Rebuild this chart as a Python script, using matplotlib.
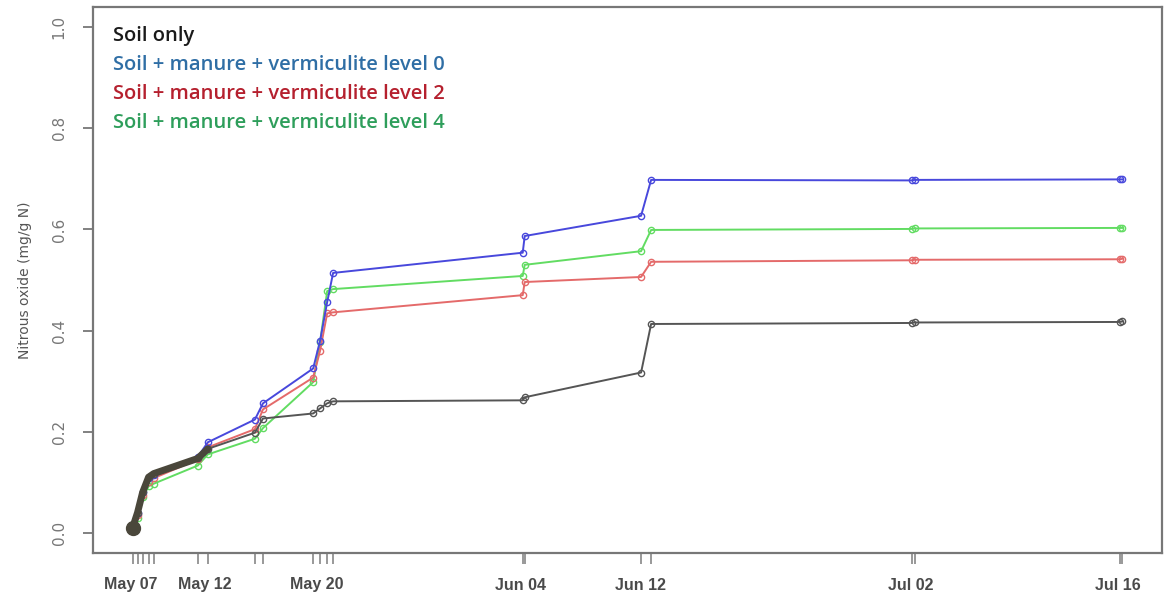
import matplotlib
matplotlib.use("Agg")
import matplotlib.pyplot as plt
import matplotlib.transforms as mtrans
import numpy as np

# ---- data ----
# sampling times, in days since May 07 00:00
days = [0.0, 0.35, 0.71, 1.13, 1.49, 4.61, 5.32, 8.65, 9.22,
        12.77, 13.26, 13.76, 14.18, 27.59, 27.73, 35.96, 36.67,
        55.1, 55.3, 69.8, 70.0]

soil_only = [0.010, 0.040, 0.080, 0.110, 0.117, 0.147, 0.166, 0.198, 0.226,
             0.236, 0.246, 0.256, 0.260, 0.262, 0.268, 0.317, 0.413,
             0.415, 0.416, 0.417, 0.418]
level0 = [0.008, 0.040, 0.080, 0.108, 0.115, 0.150, 0.179, 0.224, 0.256,
          0.325, 0.380, 0.456, 0.514, 0.554, 0.587, 0.627, 0.698,
          0.697, 0.698, 0.699, 0.699]
level2 = [0.007, 0.035, 0.075, 0.100, 0.108, 0.145, 0.169, 0.205, 0.244,
          0.307, 0.360, 0.434, 0.436, 0.470, 0.496, 0.506, 0.536,
          0.539, 0.540, 0.541, 0.542]
level4 = [0.005, 0.030, 0.070, 0.092, 0.097, 0.133, 0.155, 0.186, 0.207,
          0.298, 0.377, 0.478, 0.482, 0.508, 0.530, 0.557, 0.599,
          0.601, 0.602, 0.603, 0.603]

label_days = [-0.1, 5.1, 13.0, 27.4, 35.9, 55.0, 69.7]
label_text = ["May 07", "May 12", "May 20", "Jun 04", "Jun 12", "Jul 02", "Jul 16"]

legend_text = ["Soil only",
               "Soil + manure + vermiculite level 0",
               "Soil + manure + vermiculite level 2",
               "Soil + manure + vermiculite level 4"]
legend_colors = ["#1a1a1a", "#2f6ea5", "#b5202e", "#2e9e5b"]

ylabel = "Nitrous oxide (mg/g N)"

# ---- figure ----
W, H = 1169, 597
fig = plt.figure(figsize=(W / 100, H / 100), dpi=100)
L, R, T, B = 93, 1162, 7, 553
ax = fig.add_axes([L / W, 1 - B / H, (R - L) / W, (B - T) / H])

x = np.array(days)
rng = x.max() - x.min()
ax.set_xlim(x.min() - 0.04 * rng, x.max() + 0.04 * rng)
ax.set_ylim(-0.04, 1.04)

mk = dict(marker="o", markersize=4.5, markerfacecolor="none", markeredgewidth=1.0)
ax.plot(x, level4, color="#62dc62", lw=1.4, **mk, zorder=3)
ax.plot(x, level2, color="#e46a6a", lw=1.4, **mk, zorder=3)
ax.plot(x, level0, color="#4848dc", lw=1.4, **mk, zorder=4)
ax.plot(x, soil_only, color="#555555", lw=1.4, **mk, zorder=5)
# heavy dark overdraw of the early soil-only segment
ax.plot(x[:7], soil_only[:7], color="#4a473b", lw=5, solid_capstyle="round",
        solid_joinstyle="round", zorder=6)
ax.plot(x[:1], soil_only[:1], "o", color="#4a473b", markersize=10, zorder=6)

for s in ax.spines.values():
    s.set_color("#777777")
    s.set_linewidth(1.6)

ax.set_yticks([0.0, 0.2, 0.4, 0.6, 0.8, 1.0])
ax.set_yticklabels(["0.0", "0.2", "0.4", "0.6", "0.8", "1.0"], rotation=90,
                   va="center", fontsize=11, color="#777777")
ax.tick_params(axis="y", length=7, width=1.3, color="#777777", pad=12)

ax.set_xticks(x)
ax.set_xticklabels([""] * len(x))
ax.tick_params(axis="x", which="major", length=8, width=1.2, color="#888888")

trans = mtrans.blended_transform_factory(ax.transData, ax.transAxes)
for d, t in zip(label_days, label_text):
    ax.text(d, (B - 585) / (B - T), t, transform=trans, ha="center", va="center",
            fontsize=11.5, color="#4a4a4a", fontweight="bold",
            family="Liberation Sans", clip_on=False)

ax.set_ylabel(ylabel, fontsize=10, color="#555555", labelpad=14)

ys = [36, 65, 94, 123]
for txt, col, yp in zip(legend_text, legend_colors, ys):
    ax.text((113 - L) / (R - L), (B - yp) / (B - T), txt, transform=ax.transAxes,
            color=col, fontsize=14.5, fontweight="semibold", family="Open Sans",
            va="center", ha="left")

fig.savefig("out.png", dpi=100)
